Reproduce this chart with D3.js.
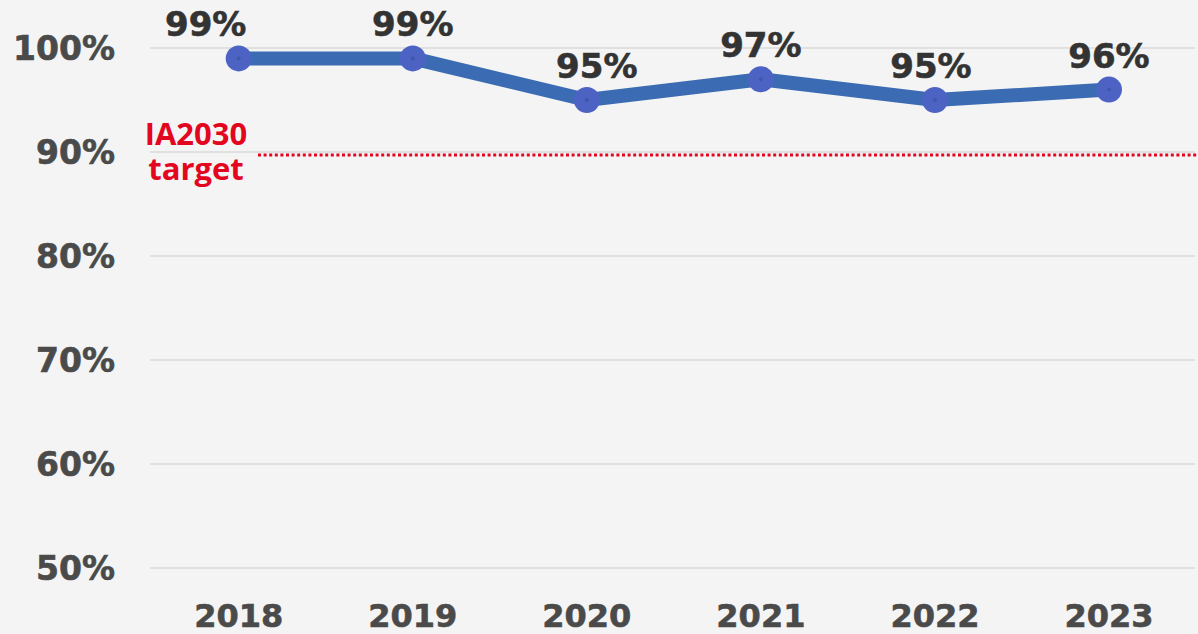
<!DOCTYPE html>
<head>
  <meta charset="utf-8">
  <script src="https://cdn.jsdelivr.net/npm/d3@7/dist/d3.min.js"></script>
  <style>
    body { margin: 0; background: #f4f4f4; }
  </style>
</head>
<body>
<script>

var years = ["2018", "2019", "2020", "2021", "2022", "2023"]
var coverage = [99, 99, 95, 97, 95, 96]
var yTicks = [50, 60, 70, 80, 90, 100]
var target = 90
var targetLabel = ["IA2030", "target"]

var width = 1198, height = 634

var svg = d3.select("body").append("svg")
  .attr("width", width)
  .attr("height", height)
  .style("display", "block")
  .style("background", "#f4f4f4")

var x = d3.scalePoint()
  .domain(years)
  .range([238.7, 1109])

var y = d3.scaleLinear()
  .domain([50, 100])
  .range([568, 48])

// gridlines
svg.append("g").selectAll("line")
  .data(yTicks)
  .enter().append("line")
  .attr("x1", 150)
  .attr("x2", 1195)
  .attr("y1", function(d) { return y(d) })
  .attr("y2", function(d) { return y(d) })
  .attr("stroke", "#dadada")
  .attr("stroke-width", 1.5)

// y tick labels
svg.append("g").selectAll("text")
  .data(yTicks)
  .enter().append("text")
  .attr("x", 115)
  .attr("y", function(d) { return y(d) })
  .attr("dy", "0.36em")
  .attr("text-anchor", "end")
  .attr("fill", "#4a4a4a")
  .attr("stroke", "#4a4a4a")
  .attr("stroke-width", 0.6)
  .style("font-family", "'DejaVu Sans', sans-serif")
  .style("font-weight", "bold")
  .style("font-size", "33px")
  .text(function(d) { return d + "%" })

// x labels
svg.append("g").selectAll("text")
  .data(years)
  .enter().append("text")
  .attr("x", function(d) { return x(d) })
  .attr("y", 627)
  .attr("text-anchor", "middle")
  .attr("fill", "#4a4a4a")
  .attr("stroke", "#4a4a4a")
  .attr("stroke-width", 0.6)
  .style("font-family", "'DejaVu Sans', sans-serif")
  .style("font-weight", "bold")
  .style("font-size", "32px")
  .text(function(d) { return d })

// target line (sits just under the 90% gridline)
svg.append("line")
  .attr("x1", 258)
  .attr("x2", 1198)
  .attr("y1", y(target) + 3)
  .attr("y2", y(target) + 3)
  .attr("stroke", "#e3061f")
  .attr("stroke-width", 3)
  .attr("stroke-dasharray", "3,2.6")

svg.append("g").selectAll("text")
  .data(targetLabel)
  .enter().append("text")
  .attr("x", 196)
  .attr("y", function(d, i) { return y(target) - 7 + i * 35 })
  .attr("text-anchor", "middle")
  .attr("fill", "#e3061f")
  .style("font-family", "'Open Sans', sans-serif")
  .style("font-weight", "bold")
  .style("font-size", "31px")
  .text(function(d) { return d })

// series line
var line = d3.line()
  .x(function(d, i) { return x(years[i]) })
  .y(function(d) { return y(d) })

svg.append("path")
  .datum(coverage)
  .attr("d", line)
  .attr("fill", "none")
  .attr("stroke", "#3b6cb3")
  .attr("stroke-width", 14)
  .attr("stroke-linejoin", "round")

svg.append("g").selectAll("circle")
  .data(coverage)
  .enter().append("circle")
  .attr("cx", function(d, i) { return x(years[i]) })
  .attr("cy", function(d) { return y(d) })
  .attr("r", 13)
  .attr("fill", "#4d63c4")

svg.append("g").selectAll("circle")
  .data(coverage)
  .enter().append("circle")
  .attr("cx", function(d, i) { return x(years[i]) })
  .attr("cy", function(d) { return y(d) })
  .attr("r", 2)
  .attr("fill", "#3f57a8")

// value labels, a few nudged sideways as in the original
var nudge = {"2018": -33, "2020": 10, "2022": -4}
svg.append("g").selectAll("text")
  .data(coverage)
  .enter().append("text")
  .attr("x", function(d, i) { return x(years[i]) + (nudge[years[i]] || 0) })
  .attr("y", function(d) { return y(d) - 22 })
  .attr("text-anchor", "middle")
  .attr("fill", "#333333")
  .attr("stroke", "#333333")
  .attr("stroke-width", 0.6)
  .style("font-family", "'DejaVu Sans', sans-serif")
  .style("font-weight", "bold")
  .style("font-size", "34px")
  .text(function(d) { return d + "%" })

</script>
</body>
